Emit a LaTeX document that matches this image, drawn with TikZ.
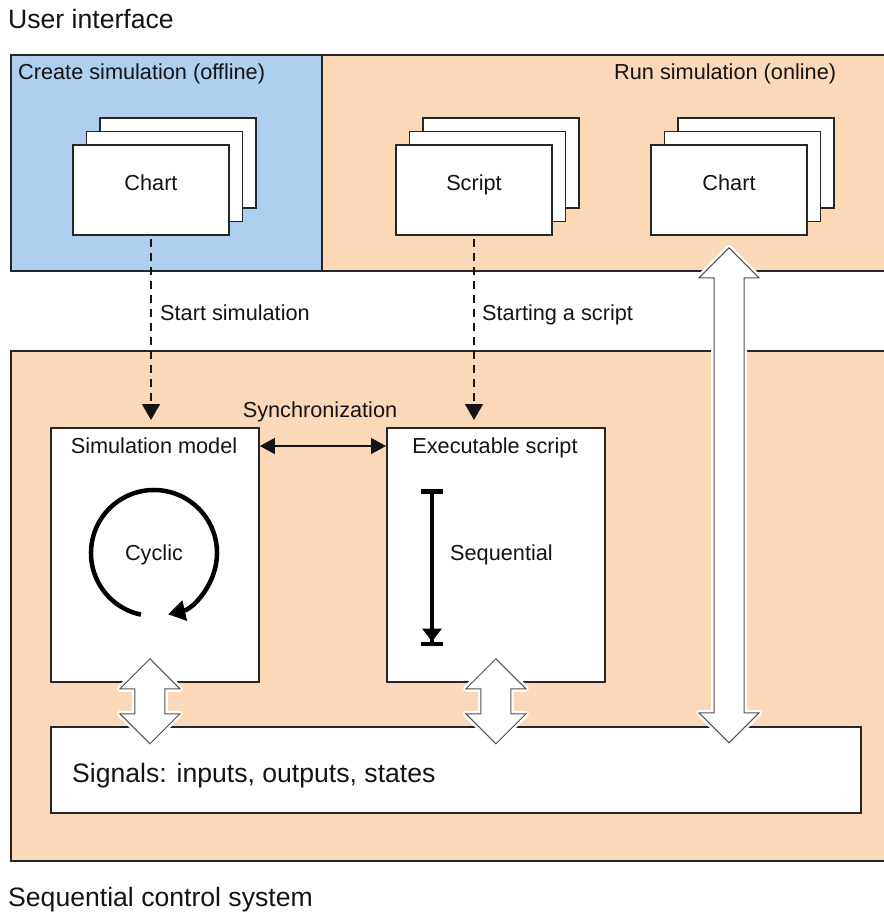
\documentclass[tikz,border=0pt]{standalone}
\usepackage{fontspec}
\setmainfont{Liberation Sans}
\usetikzlibrary{arrows.meta,calc}
\definecolor{offblue}{RGB}{174,207,237}
\definecolor{onpeach}{RGB}{251,216,184}
\definecolor{edge}{RGB}{38,38,38}
\definecolor{ink}{RGB}{20,20,20}
\definecolor{arrowedge}{RGB}{80,80,80}

\tikzset{
  pics/vdarrow/.style={code={
    \draw[bigarrow] (0,0) -- (30,30) -- (15,30) -- (15,{#1-30}) -- (30,{#1-30})
      -- (0,#1) -- (-30,{#1-30}) -- (-15,{#1-30}) -- (-15,30) -- (-30,30) -- cycle;
  }}
}

\begin{document}
\begin{tikzpicture}[x=1pt,y=-1pt,
  txt/.style={inner sep=0pt, text height=15.5pt, text depth=0pt, text=ink,
    font=\fontsize{21.7}{26}\selectfont},
  bigtxt/.style={inner sep=0pt, text height=19pt, text depth=0pt, text=ink,
    font=\fontsize{26.6}{32}\selectfont},
  panel/.style={draw=edge, line width=1.8pt, inner sep=0pt, anchor=north west},
  page/.style={draw=edge, line width=1.8pt, fill=white, minimum width=156pt,
    minimum height=90pt, inner sep=0pt, text height=15.5pt, text depth=14pt,
    text=ink, font=\fontsize{21.7}{26}\selectfont},
  box/.style={draw=edge, line width=1.8pt, fill=white, inner sep=0pt, anchor=north west},
  flow/.style={draw=ink, line width=1.5pt, dash pattern=on 8pt off 6pt,
    -{Triangle[length=16pt,width=18pt]}},
  syncline/.style={draw=ink, line width=1.5pt,
    {Triangle[length=15pt,width=16pt]}-{Triangle[length=15pt,width=16pt]}},
  bigarrow/.style={preaction={draw=white, line width=6pt, line join=round},
    draw=arrowedge, fill=white, line width=1pt},
]
\useasboundingbox (0,0) rectangle (883,912);

% bands
\node[panel, fill=offblue, minimum width=311pt, minimum height=216pt] (offline) at (10,54) {};
\node[panel, fill=onpeach, minimum width=580pt, minimum height=216pt] (online) at (321,54) {};
\node[panel, fill=onpeach, minimum width=890pt, minimum height=510pt] (scs) at (10,350) {};

% headings
\node[bigtxt, anchor=west] (uihead) at (8,19) {User interface};
\node[bigtxt, anchor=west] (scshead) at (8,897) {Sequential control system};
\node[txt, anchor=west] (offhead) at (18,72) {Create simulation (offline)};
\node[txt, anchor=west] (onhead) at (614,72) {Run simulation (online)};

% stacked pages
\foreach \n/\x/\t in {chartA/151/Chart, script/474/Script, chartB/729/Chart} {
  \node[page] (\n-3) at ({\x+27},163) {};
  \node[page] (\n-2) at ({\x+13.5},176.5) {};
  \node[page] (\n) at (\x,190) {\t};
}

% runtime boxes
\node[box, minimum width=208pt, minimum height=254pt] (sim) at (50,427) {};
\node[box, minimum width=218pt, minimum height=254pt] (exec) at (386,427) {};
\node[box, minimum width=810pt, minimum height=86pt] (signals) at (50,726) {};

\node[txt] (simtitle) at (154,446) {Simulation model};
\node[txt] (exectitle) at (495,446) {Executable script};
\node[txt] (sync) at (320,410) {Synchronization};
\node[txt] (cyc) at (154,553) {Cyclic};
\node[txt, anchor=west] (seq) at (450,553) {Sequential};
\node[bigtxt, anchor=west] (sig) at (72,773) {Signals: inputs, outputs, states};

% start arrows
\draw[flow] ([yshift=-3pt]chartA.south) -- ([yshift=7pt]chartA.south |- sim.north);
\draw[flow] ([yshift=-3pt]script.south) -- ([yshift=7pt]script.south |- exec.north);
\node[txt, anchor=west] (startsim) at (160,313) {Start simulation};
\node[txt, anchor=west] (startscr) at (482,313) {Starting a script};

% synchronization
\draw[syncline] (sim.east |- simtitle) -- (exec.west |- simtitle);

% cyclic execution
\draw[draw=black, line width=4.5pt, -{Triangle[length=17pt,width=20pt]}]
  (cyc) ++(102:63) arc[start angle=102, end angle=437, radius=63];

% sequential execution
\coordinate (seqtop) at (432,489);
\coordinate (seqbot) at (432,646);
\draw[draw=black, line width=4pt,
  {Bar[width=22pt,line width=4.5pt]}-{Triangle[length=13pt,width=19pt]Bar[width=22pt,line width=4.5pt]}]
  (seqtop) -- (seqbot);

% data exchange with the signals
\pic at ([xshift=-5pt,yshift=24pt]sim.south) {vdarrow=85};
\pic at ([yshift=24pt]exec.south) {vdarrow=85};
\pic at ([yshift=-12pt]chartB.south) {vdarrow=495};
\end{tikzpicture}
\end{document}
